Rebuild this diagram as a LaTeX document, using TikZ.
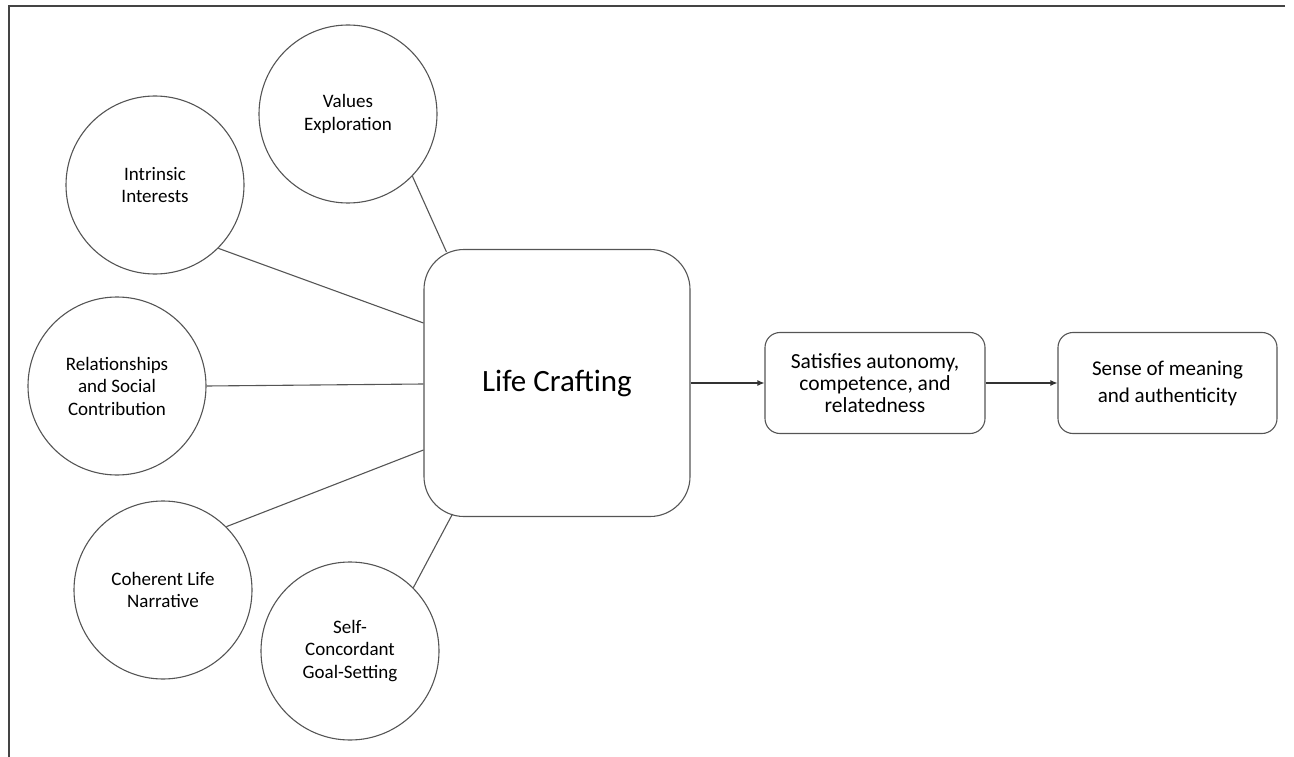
\documentclass[tikz,border=0pt]{standalone}
\usepackage{fontspec}
\setmainfont{Carlito}
\usetikzlibrary{arrows.meta,calc}
\definecolor{edge}{HTML}{555555}
\definecolor{frame}{HTML}{444444}
\tikzset{
  topic/.style={circle,draw=edge,line width=1.1pt,minimum size=178pt,inner sep=0pt,align=center,font=\fontsize{19}{22.5}\selectfont},
  outcome/.style={draw=edge,line width=1.1pt,rounded corners=15pt,minimum width=220pt,minimum height=101pt,inner sep=0pt,align=center},
  link/.style={draw=edge,line width=1.1pt},
  flow/.style={draw=black!80,line width=1.1pt,-{Latex[length=7pt,width=6pt]}}
}
\begin{document}
\begin{tikzpicture}[x=1pt,y=-1pt]
\useasboundingbox (0,0) rectangle (1294,757);
\draw[frame,line width=2pt] (1285,6) -- (9,6) -- (9,757);

\node[draw=edge,line width=1.1pt,rounded corners=40pt,minimum width=266pt,minimum height=267pt,inner sep=0pt,font=\fontsize{31}{38}\selectfont] (lc) at (557,383) {Life Crafting};

\node[outcome,font=\fontsize{21.5}{22}\selectfont] (sat) at (875,383) {Satisfies autonomy,\\competence, and\\relatedness};
\node[outcome,minimum width=219pt,font=\fontsize{21}{27}\selectfont] (sense) at (1167.5,383) {Sense of meaning\\and authenticity};

\node[topic] (val) at (348,114) {Values\\Exploration};
\node[topic] (intr) at (155,185) {Intrinsic\\Interests};
\node[topic] (rel) at (117,386) {Relationships\\and Social\\Contribution};
\node[topic] (coh) at (163,590) {Coherent Life\\Narrative};
\node[topic] (self) at (350,651) {Self-\\Concordant\\Goal-Setting};

\draw[link] (val.-44) -- ($(lc.north west)+(23,3)$);
\draw[link] (intr.-45) -- ($(lc.west)+(0,-60)$);
\draw[link] (rel.east) -- ($(lc.west)+(0,1)$);
\draw[link] (coh.45) -- ($(lc.west)+(0,67)$);
\draw[link] (self.45) -- ($(lc.south west)+(29,-3)$);

\draw[flow] (lc.east) -- (sat.west);
\draw[flow] (sat.east) -- (sense.west);
\end{tikzpicture}
\end{document}
